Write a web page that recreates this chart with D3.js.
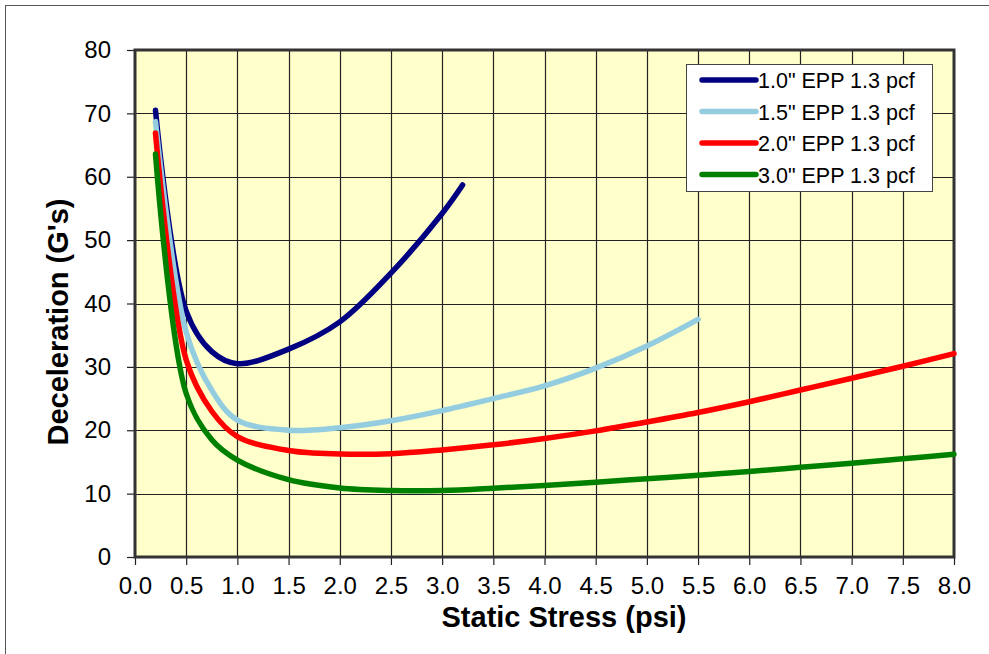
<!DOCTYPE html>
<html>
<head>
<meta charset="utf-8">
<script src="https://cdn.jsdelivr.net/npm/d3@7"></script>
<style>
  body { margin: 0; background: #fff; }
  text { font-family: Arial, "Liberation Sans", sans-serif; }
</style>
</head>
<body>
<div id="chart"></div>
<script>
// static stress values (psi) for each series
const xs10 = [0.2, 0.5, 0.75, 1.0, 1.5, 2.0, 2.5, 3.0, 3.2];
const ys10 = [70.5, 38.8, 32.4, 30.5, 32.8, 37.1, 44.8, 54.2, 58.7];

const xs15 = [0.2, 0.5, 0.75, 1.0, 1.5, 2.0, 2.5, 3.0, 3.5, 4.0, 4.5, 5.0, 5.5];
const ys15 = [68.7, 35.5, 26.3, 21.6, 20.0, 20.4, 21.5, 23.1, 25.0, 27.0, 29.8, 33.3, 37.5];

const xs20 = [0.2, 0.5, 0.75, 1.0, 1.5, 2.0, 2.5, 3.0, 3.5, 4.0, 4.5, 5.0, 5.5, 6.0, 6.5, 7.0, 7.5, 8.0];
const ys20 = [66.9, 31.1, 23.0, 19.0, 16.8, 16.25, 16.3, 16.9, 17.7, 18.7, 19.9, 21.3, 22.8, 24.5, 26.35, 28.2, 30.1, 32.1];

const xs30 = [0.2, 0.5, 0.75, 1.0, 1.5, 2.0, 2.5, 3.0, 3.5, 4.0, 4.5, 5.0, 5.5, 6.0, 6.5, 7.0, 7.5, 8.0];
const ys30 = [63.6, 25.8, 18.5, 15.3, 12.2, 10.9, 10.5, 10.5, 10.85, 11.3, 11.8, 12.35, 12.9, 13.5, 14.15, 14.8, 15.5, 16.2];

const seriesNames = ['1.0" EPP 1.3 pcf', '1.5" EPP 1.3 pcf', '2.0" EPP 1.3 pcf', '3.0" EPP 1.3 pcf'];
const seriesColors = ["#000080", "#94CCE0", "#FF0000", "#008000"];

const xTicks = d3.range(0, 8.01, 0.5);
const yTicks = d3.range(0, 81, 10);

const W = 989, H = 654;
const margin = {top: 50, right: 35, bottom: 97, left: 135};
const width = W - margin.left - margin.right,
      height = H - margin.top - margin.bottom;

const series = [
  {name: seriesNames[0], color: seriesColors[0], pts: xs10.map((x, i) => [x, ys10[i]])},
  {name: seriesNames[1], color: seriesColors[1], pts: xs15.map((x, i) => [x, ys15[i]])},
  {name: seriesNames[2], color: seriesColors[2], pts: xs20.map((x, i) => [x, ys20[i]])},
  {name: seriesNames[3], color: seriesColors[3], pts: xs30.map((x, i) => [x, ys30[i]])}
];

const svg = d3.select("#chart")
  .append("svg")
  .attr("width", W)
  .attr("height", H);

// outer frame (runs off the bottom/right like the original)
svg.append("rect")
  .attr("x", 5.5).attr("y", 5.5)
  .attr("width", W).attr("height", H)
  .attr("fill", "none")
  .attr("stroke", "#555")
  .attr("stroke-width", 1);

const g = svg.append("g")
  .attr("transform", "translate(" + margin.left + "," + margin.top + ")");

const x = d3.scaleLinear().domain([0, 8]).range([0, width]);
const y = d3.scaleLinear().domain([0, 80]).range([height, 0]);

g.append("rect")
  .attr("width", width)
  .attr("height", height)
  .attr("fill", "#FFFFCC");

// grid
g.append("g")
  .selectAll("line.vg")
  .data(xTicks.slice(1, -1))
  .enter()
  .append("line")
  .attr("x1", d => Math.round(x(d)) + 0.5)
  .attr("x2", d => Math.round(x(d)) + 0.5)
  .attr("y1", 0).attr("y2", height)
  .attr("stroke", "#222").attr("stroke-width", 1.2);

g.append("g")
  .selectAll("line.hg")
  .data(yTicks.slice(1, -1))
  .enter()
  .append("line")
  .attr("y1", d => Math.round(y(d)) + 0.5)
  .attr("y2", d => Math.round(y(d)) + 0.5)
  .attr("x1", 0).attr("x2", width)
  .attr("stroke", "#222").attr("stroke-width", 1.2);

// axes
const xAxis = d3.axisBottom(x)
  .tickValues(xTicks)
  .tickSize(8)
  .tickPadding(12)
  .tickFormat(d3.format(".1f"));

const yAxis = d3.axisLeft(y)
  .tickValues(yTicks)
  .tickSize(8)
  .tickPadding(16)
  .tickFormat(d3.format("d"));

const gx = g.append("g")
  .attr("transform", "translate(0," + height + ")")
  .call(xAxis);
const gy = g.append("g").call(yAxis);

[gx, gy].forEach(a => {
  a.select(".domain").remove();
  a.selectAll(".tick line").attr("stroke", "#222").attr("stroke-width", 1.2);
  a.selectAll(".tick text")
    .attr("font-size", "24px")
    .attr("fill", "#000")
    .style("font-family", "Arial, 'Liberation Sans', sans-serif");
});

// plot border
g.append("rect")
  .attr("width", width)
  .attr("height", height)
  .attr("fill", "none")
  .attr("stroke", "#333")
  .attr("stroke-width", 3);

// curves
const line = d3.line()
  .x(d => x(d[0]))
  .y(d => y(d[1]))
  .curve(d3.curveCatmullRom.alpha(0.5));

g.selectAll(".series")
  .data(series)
  .enter()
  .append("path")
  .attr("class", "series")
  .attr("fill", "none")
  .attr("stroke", d => d.color)
  .attr("stroke-width", 5.5)
  .attr("stroke-linecap", "round")
  .attr("stroke-linejoin", "round")
  .attr("d", d => line(d.pts));

// legend
const lg = svg.append("g").attr("transform", "translate(686,64)");
lg.append("rect")
  .attr("x", 0.5).attr("y", 0.5)
  .attr("width", 246).attr("height", 127)
  .attr("fill", "#fff")
  .attr("stroke", "#444")
  .attr("stroke-width", 1);

const items = lg.selectAll(".item")
  .data(series)
  .enter()
  .append("g")
  .attr("transform", (d, i) => "translate(0," + (16 + i * 31.5) + ")");

items.append("line")
  .attr("x1", 16).attr("x2", 70)
  .attr("y1", 0).attr("y2", 0)
  .attr("stroke", d => d.color)
  .attr("stroke-width", 5.5)
  .attr("stroke-linecap", "round");

items.append("text")
  .attr("x", 72)
  .attr("y", 8)
  .attr("font-size", "21.5px")
  .attr("fill", "#000")
  .text(d => d.name);

// axis titles
svg.append("text")
  .attr("x", 564)
  .attr("y", 627)
  .attr("text-anchor", "middle")
  .attr("font-size", "29px")
  .attr("font-weight", "bold")
  .attr("fill", "#000")
  .text("Static Stress (psi)");

svg.append("text")
  .attr("transform", "translate(68,322) rotate(-90)")
  .attr("text-anchor", "middle")
  .attr("font-size", "29px")
  .attr("font-weight", "bold")
  .attr("fill", "#000")
  .text("Deceleration (G's)");
</script>
</body>
</html>
